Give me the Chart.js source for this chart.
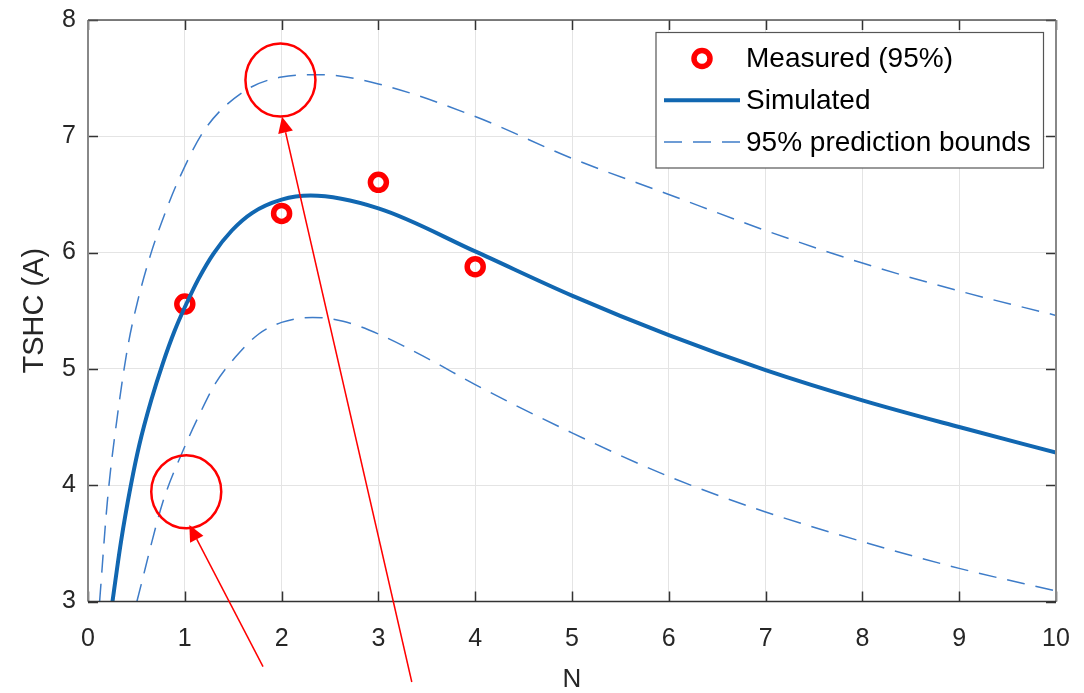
<!DOCTYPE html>
<html>
<head>
<meta charset="utf-8">
<script src="https://cdn.jsdelivr.net/npm/chart.js@4/dist/chart.umd.min.js"></script>
<style>
  html, body { margin: 0; padding: 0; background: #fff; }
</style>
</head>
<body>
<canvas id="myChart" width="1084" height="693"></canvas>
<script>
// measured points
var measX = [1, 2, 3, 4];
var measY = [5.557, 6.337, 6.604, 5.879];

// simulated curve
var simX = [0.253, 0.34, 0.443, 0.531, 0.653, 0.774, 0.896, 1.0, 1.139, 1.295, 1.486, 1.694, 2.0, 2.3, 3, 4, 5, 6, 7, 8, 9, 10];
var simY = [3.0, 3.51, 4.0, 4.35, 4.73, 5.05, 5.33, 5.53, 5.77, 5.99, 6.19, 6.34, 6.455, 6.49, 6.38, 6.01, 5.63, 5.29, 4.99, 4.73, 4.50, 4.28];

// 95% bounds
var upX = [0.12, 0.201, 0.306, 0.41, 0.514, 0.653, 0.792, 0.93, 1.2, 1.6, 2.0, 2.4, 3, 4, 5, 6, 7, 8, 9, 10];
var upY = [3.0, 3.87, 4.61, 5.186, 5.586, 6.0, 6.33, 6.614, 7.05, 7.38, 7.51, 7.53, 7.45, 7.17, 6.81, 6.50, 6.19, 5.91, 5.67, 5.46];
var loX = [0.505, 0.774, 0.983, 1.139, 1.313, 1.521, 1.764, 2.0, 2.32, 2.635, 3, 3.53, 4, 5, 6, 7, 8, 9, 10];
var loY = [3.0, 3.857, 4.30, 4.586, 4.871, 5.10, 5.30, 5.40, 5.443, 5.41, 5.30, 5.08, 4.865, 4.45, 4.075, 3.77, 3.515, 3.285, 3.09];

var xTicks = [0, 1, 2, 3, 4, 5, 6, 7, 8, 9, 10];
var yTicks = [3, 4, 5, 6, 7, 8];

// red annotation circles and arrows (data units)
var circX = [1.988, 1.015];
var circY = [7.484, 3.944];
var arrFromX = [3.345, 1.808];
var arrFromY = [2.308, 2.440];
var arrToX = [2.004, 1.047];
var arrToY = [7.169, 3.658];

function pts(xs, ys) {
  var out = [];
  for (var i = 0; i < xs.length; i++) out.push({x: xs[i], y: ys[i]});
  return out;
}

var FONT = '"Liberation Sans", Arial, Helvetica, sans-serif';
var TXT = '#262626';

var boxPlugin = {
  id: 'boxPlugin',
  afterDatasetsDraw: function(chart) {
    var ctx = chart.ctx;
    var a = chart.chartArea;
    var sx = chart.scales.x, sy = chart.scales.y;
    ctx.save();
    // inward ticks
    ctx.strokeStyle = '#333';
    ctx.lineWidth = 1.5;
    ctx.beginPath();
    for (var i = 0; i < xTicks.length; i++) {
      var px = Math.round(sx.getPixelForValue(xTicks[i])) + 0.5;
      ctx.moveTo(px, a.bottom); ctx.lineTo(px, a.bottom - 10);
      ctx.moveTo(px, a.top); ctx.lineTo(px, a.top + 10);
    }
    for (var j = 0; j < yTicks.length; j++) {
      var py = Math.round(sy.getPixelForValue(yTicks[j])) + 0.5;
      ctx.moveTo(a.left, py); ctx.lineTo(a.left + 10, py);
      ctx.moveTo(a.right, py); ctx.lineTo(a.right - 10, py);
    }
    ctx.stroke();
    // box
    ctx.lineWidth = 2;
    ctx.strokeStyle = '#888';
    ctx.beginPath();
    ctx.moveTo(a.left, a.bottom); ctx.lineTo(a.left, a.top);
    ctx.moveTo(a.right, a.bottom); ctx.lineTo(a.right, a.top);
    ctx.stroke();
    ctx.lineWidth = 1.5;
    ctx.strokeStyle = '#555';
    ctx.beginPath();
    ctx.moveTo(a.left, a.top); ctx.lineTo(a.right, a.top);
    ctx.stroke();
    ctx.strokeStyle = '#333';
    ctx.beginPath();
    ctx.moveTo(a.left, a.bottom); ctx.lineTo(a.right, a.bottom);
    ctx.stroke();

    // legend
    var ds = chart.data.datasets;
    var L = a.right - 400, T = a.top + 12.5, R = a.right - 12.5, B = a.top + 148;
    ctx.fillStyle = '#fff';
    ctx.fillRect(L, T, R - L, B - T);
    ctx.strokeStyle = '#555';
    ctx.lineWidth = 1.2;
    ctx.strokeRect(L, T, R - L, B - T);
    ctx.font = '28px ' + FONT;
    ctx.textBaseline = 'middle';
    ctx.textAlign = 'left';
    var rows = [T + 26, T + 67.7, T + 109.4];
    for (var k = 0; k < rows.length; k++) {
      var d = ds[k];
      var yy = rows[k];
      ctx.strokeStyle = d.borderColor;
      ctx.lineWidth = d.borderWidth;
      ctx.beginPath();
      if (d.showLine === false) {
        ctx.arc(L + 46, yy, d.pointRadius, 0, Math.PI * 2);
      } else {
        ctx.setLineDash(d.borderDash || []);
        ctx.moveTo(L + 8, yy); ctx.lineTo(L + 84, yy);
      }
      ctx.stroke();
      ctx.setLineDash([]);
      ctx.fillStyle = '#000';
      ctx.fillText(d.label, L + 90, yy + 1);
    }

    // red annotations
    ctx.strokeStyle = '#ff0000';
    ctx.fillStyle = '#ff0000';
    ctx.lineWidth = 2.5;
    for (var c = 0; c < circX.length; c++) {
      ctx.beginPath();
      ctx.ellipse(sx.getPixelForValue(circX[c]), sy.getPixelForValue(circY[c]), 35, 36.5, 0, 0, Math.PI * 2);
      ctx.stroke();
    }
    ctx.lineWidth = 1.5;
    for (var r = 0; r < arrFromX.length; r++) {
      var x0 = sx.getPixelForValue(arrFromX[r]), y0 = sy.getPixelForValue(arrFromY[r]);
      var x1 = sx.getPixelForValue(arrToX[r]), y1 = sy.getPixelForValue(arrToY[r]);
      var ang = Math.atan2(y1 - y0, x1 - x0);
      var hl = 16, hw = 7.5;
      var bx = x1 - hl * Math.cos(ang), by = y1 - hl * Math.sin(ang);
      ctx.beginPath();
      ctx.moveTo(x0, y0); ctx.lineTo(bx, by);
      ctx.stroke();
      ctx.beginPath();
      ctx.moveTo(x1, y1);
      ctx.lineTo(bx + hw * Math.sin(ang), by - hw * Math.cos(ang));
      ctx.lineTo(bx - hw * Math.sin(ang), by + hw * Math.cos(ang));
      ctx.closePath();
      ctx.fill();
    }
    ctx.restore();
  }
};

var ctx = document.getElementById('myChart').getContext('2d');
var myChart = new Chart(ctx, {
  type: 'scatter',
  data: {
    datasets: [{
      label: 'Measured (95%)',
      data: pts(measX, measY),
      showLine: false,
      pointStyle: 'circle',
      pointRadius: 8,
      pointHoverRadius: 8,
      borderWidth: 5.5,
      pointBorderWidth: 5.5,
      borderColor: '#ff0000',
      backgroundColor: 'rgba(0,0,0,0)',
      order: 3
    }, {
      label: 'Simulated',
      data: pts(simX, simY),
      showLine: true,
      pointRadius: 0,
      borderWidth: 4,
      borderColor: '#1167b1',
      backgroundColor: 'rgba(0,0,0,0)',
      cubicInterpolationMode: 'monotone',
      order: 2
    }, {
      label: '95% prediction bounds',
      data: pts(upX, upY),
      showLine: true,
      pointRadius: 0,
      borderWidth: 1.5,
      borderDash: [18, 11],
      borderColor: '#3e7cc8',
      backgroundColor: 'rgba(0,0,0,0)',
      cubicInterpolationMode: 'monotone',
      order: 1
    }, {
      label: 'lower bound',
      data: pts(loX, loY),
      showLine: true,
      pointRadius: 0,
      borderWidth: 1.5,
      borderDash: [18, 11],
      borderColor: '#3e7cc8',
      backgroundColor: 'rgba(0,0,0,0)',
      cubicInterpolationMode: 'monotone',
      order: 1
    }]
  },
  options: {
    responsive: false,
    animation: false,
    layout: { padding: { top: 20, right: 28, left: 0, bottom: 0 } },
    plugins: { legend: { display: false }, tooltip: { enabled: false } },
    scales: {
      x: {
        type: 'linear',
        min: 0, max: 10,
        afterFit: function(s) { s.height = 91.5; },
        afterBuildTicks: function(s) { s.ticks = xTicks.map(function(v) { return {value: v}; }); },
        grid: { color: '#e4e4e4', lineWidth: 1, drawTicks: false },
        border: { display: false },
        ticks: { padding: 0, color: TXT, font: { family: FONT, size: 25, lineHeight: 3 } },
        title: { display: true, text: 'N', color: TXT, font: { family: FONT, size: 26, lineHeight: 1 }, padding: { top: 0, bottom: 0 } }
      },
      y: {
        type: 'linear',
        min: 3, max: 8,
        afterFit: function(s) { s.width = 88; },
        afterBuildTicks: function(s) { s.ticks = yTicks.map(function(v) { return {value: v}; }); },
        grid: { color: '#e4e4e4', lineWidth: 1, drawTicks: false },
        border: { display: false },
        ticks: { padding: 12, color: TXT, font: { family: FONT, size: 25, lineHeight: 0.5 } },
        title: { display: true, text: 'TSHC (A)', color: TXT, font: { family: FONT, size: 29, lineHeight: 1 }, padding: { top: 20.5, bottom: 0 } }
      }
    }
  },
  plugins: [boxPlugin]
});
</script>
</body>
</html>
